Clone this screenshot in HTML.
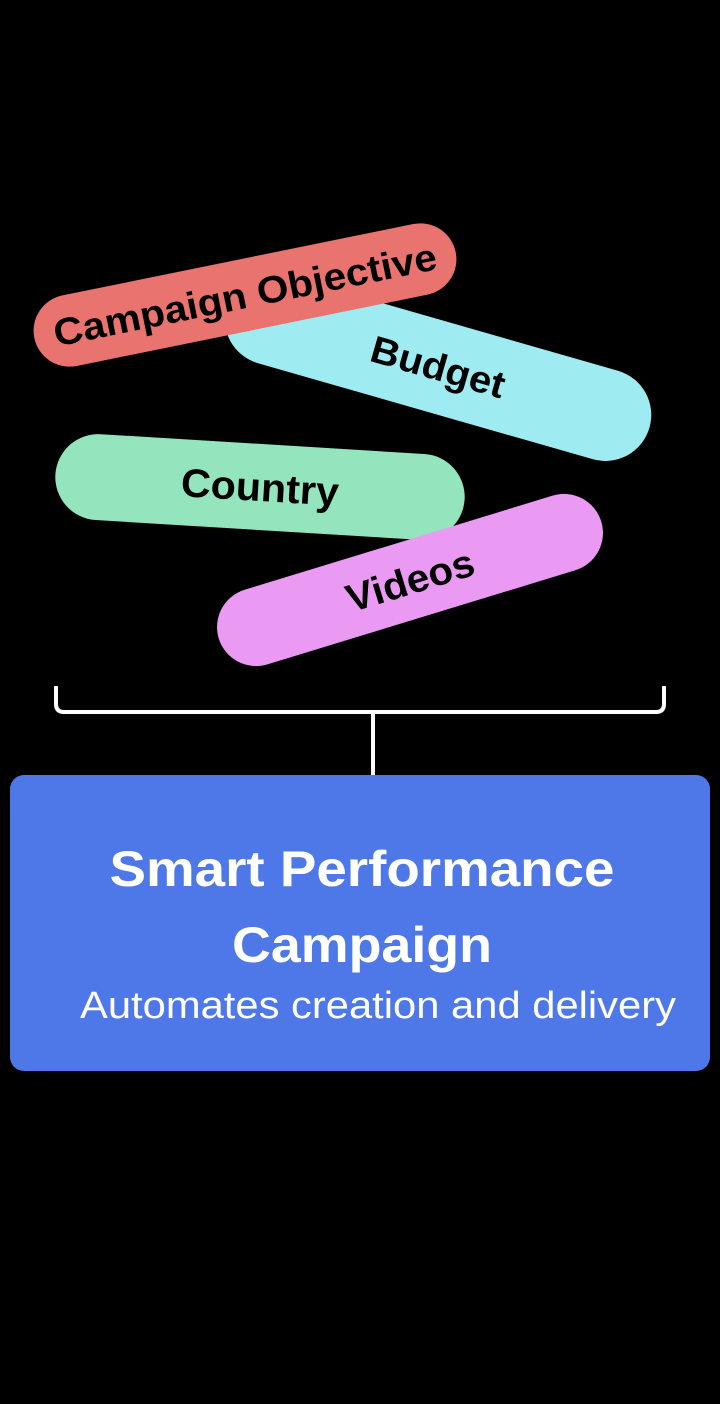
<!DOCTYPE html>
<html><head><meta charset="utf-8"><style>
html,body{margin:0;padding:0;background:#000;width:720px;height:1404px;overflow:hidden}
svg{display:block}
text{font-family:"Liberation Sans","Noto Sans CJK JP",sans-serif;font-weight:bold}
</style></head><body>
<svg width="720" height="1404" viewBox="0 0 720 1404" xmlns="http://www.w3.org/2000/svg">
<rect width="720" height="1404" fill="#000"/>
<g transform="translate(438,367) rotate(16)">
<rect x="-220" y="-46" width="440" height="92" rx="46" fill="#9eecf2"/>
<text x="0" y="13" text-anchor="middle" font-size="38" fill="#000" textLength="138" lengthAdjust="spacingAndGlyphs">Budget</text>
</g>
<g transform="translate(245,295) rotate(-11.5)">
<rect x="-215" y="-36" width="430" height="72" rx="36" fill="#e8736f"/>
<text x="0" y="13" text-anchor="middle" font-size="38" fill="#000" textLength="390" lengthAdjust="spacingAndGlyphs">Campaign Objective</text>
</g>
<g transform="translate(260,487) rotate(3.5)">
<rect x="-205" y="-43" width="410" height="86" rx="43" fill="#94e4bd"/>
<text x="0" y="14" text-anchor="middle" font-size="40" fill="#000" textLength="158" lengthAdjust="spacingAndGlyphs">Country</text>
</g>
<g transform="translate(410,580) rotate(-17)">
<rect x="-200" y="-39" width="400" height="78" rx="39" fill="#eb9af3"/>
<text x="0" y="14" text-anchor="middle" font-size="39" fill="#000" textLength="132" lengthAdjust="spacingAndGlyphs">Videos</text>
</g>
<path d="M56 686 V704 Q56 712 64 712 H656 Q664 712 664 704 V686" fill="none" stroke="#fff" stroke-width="4"/>
<line x1="373" y1="712" x2="373" y2="776" stroke="#fff" stroke-width="4"/>
<rect x="10" y="775" width="700" height="296" rx="14" fill="#4e78e8"/>
<text x="362" y="886" text-anchor="middle" font-size="50" fill="#fff" textLength="505" lengthAdjust="spacingAndGlyphs">Smart Performance</text>
<text x="362" y="962" text-anchor="middle" font-size="50" fill="#fff" textLength="260" lengthAdjust="spacingAndGlyphs">Campaign</text>
<text x="378" y="1018" text-anchor="middle" font-size="38" fill="#fff" style="font-weight:normal" textLength="596" lengthAdjust="spacingAndGlyphs">Automates creation and delivery</text>
</svg>
</body></html>
